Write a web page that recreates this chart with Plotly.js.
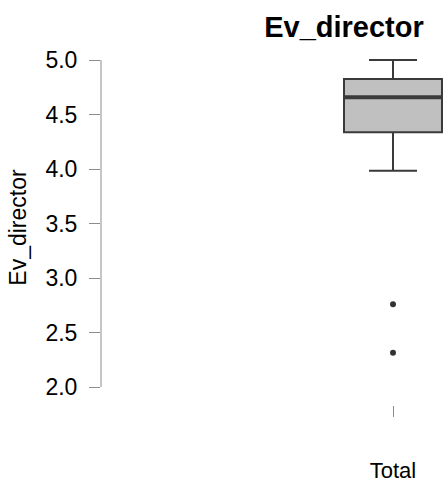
<!DOCTYPE html>
<html>
<head>
<meta charset="utf-8">
<script src="https://cdn.plot.ly/plotly-3.0.1.min.js"></script>
<style>html,body{margin:0;padding:0;background:#fff;}#chart{width:443px;height:487px;}</style>
</head>
<body>
<div id="chart"></div>
<script>
var categories = ["Total"];
var q1 = [4.337];
var medians = [4.658];
var q3 = [4.826];
var lowerWhisker = [3.984];
var upperWhisker = [5.0];
var outlierX = ["Total", "Total"];
var outlierY = [2.759, 2.315];
var yTickVals = [2.0, 2.5, 3.0, 3.5, 4.0, 4.5, 5.0];
var yTickText = ["2.0", "2.5", "3.0", "3.5", "4.0", "4.5", "5.0"];

var font = "Liberation Sans, Arial, sans-serif";

var traces = [
  {
    type: "box",
    x: categories,
    q1: q1,
    median: medians,
    q3: q3,
    lowerfence: lowerWhisker,
    upperfence: upperWhisker,
    width: 0.98,
    whiskerwidth: 0.49,
    fillcolor: "#c0c0c0",
    line: {color: "#3a3a3a", width: 2},
    boxpoints: false,
    hoverinfo: "skip",
    showlegend: false
  },
  {
    // thicker median bar, drawn from the same median values
    type: "box",
    x: categories,
    q1: medians,
    median: medians,
    q3: medians,
    lowerfence: medians,
    upperfence: medians,
    width: 0.98,
    whiskerwidth: 0,
    fillcolor: "rgba(0,0,0,0)",
    line: {color: "#3a3a3a", width: 4},
    boxpoints: false,
    hoverinfo: "skip",
    showlegend: false
  },
  {
    type: "scatter",
    mode: "markers",
    x: outlierX,
    y: outlierY,
    marker: {color: "#333333", size: 6},
    showlegend: false,
    hoverinfo: "skip"
  }
];

var layout = {
  width: 443,
  height: 487,
  margin: {l: 101, r: 0, t: 50, b: 82},
  paper_bgcolor: "#ffffff",
  plot_bgcolor: "#ffffff",
  font: {family: font, color: "#000000"},
  boxmode: "overlay",
  title: {
    text: "<b>Ev_director</b>",
    font: {family: font, size: 29, color: "#000000"},
    xref: "container", x: 344 / 443, xanchor: "center",
    yref: "container", y: 1 - 27 / 487, yanchor: "middle"
  },
  xaxis: {
    type: "category",
    categoryarray: categories,
    range: [-2.92, 0.5],
    showgrid: false,
    zeroline: false,
    showline: false,
    ticks: "outside",
    ticklen: 11,
    tickwidth: 1,
    tickcolor: "#8c8c8c",
    ticklabelstandoff: 35,
    tickfont: {family: font, size: 22, color: "#000000"},
    fixedrange: true
  },
  yaxis: {
    range: [1.835, 5.092],
    tickvals: yTickVals,
    ticktext: yTickText,
    showgrid: false,
    zeroline: false,
    showline: false,
    ticks: "outside",
    ticklen: 11,
    tickwidth: 1,
    tickcolor: "#8c8c8c",
    ticklabelstandoff: 7,
    tickfont: {family: font, size: 23, color: "#000000"},
    title: {text: "Ev_director", font: {family: font, size: 23, color: "#000000"}, standoff: 12},
    fixedrange: true
  },
  shapes: [
    {type: "line", xref: "paper", yref: "y", x0: 0, x1: 0, y0: yTickVals[0], y1: yTickVals[yTickVals.length - 1],
     line: {color: "#8c8c8c", width: 1}}
  ]
};

Plotly.newPlot("chart", traces, layout, {displayModeBar: false, staticPlot: true});
</script>
</body>
</html>
